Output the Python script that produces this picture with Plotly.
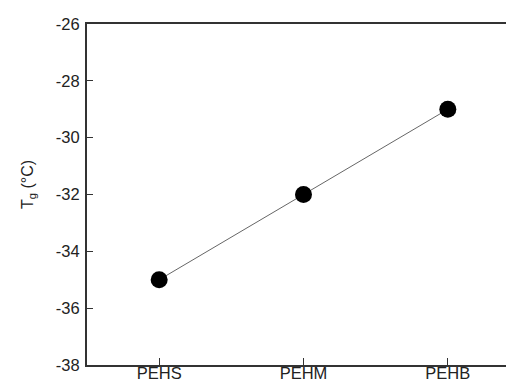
import plotly.graph_objects as go

categories = ["PEHS", "PEHM", "PEHB"]
tg_values = [-35, -32, -29]
y_ticks = [-38, -36, -34, -32, -30, -28, -26]
y_ticktext = [str(v) for v in y_ticks]  # plain hyphen-minus as in the reference

FONT = "Liberation Sans, Arial, sans-serif"
L, R, T, B = 79, 2, 16, 27
W, H = 514, 384

fig = go.Figure()
fig.add_trace(go.Scatter(
    x=[0, 1, 2], y=tg_values, mode="lines+markers",
    line=dict(color="#666666", width=1),
    marker=dict(color="black", size=17),
    showlegend=False,
))

fig.update_layout(
    width=W, height=H,
    margin=dict(l=L, r=R, t=T, b=B),
    paper_bgcolor="white", plot_bgcolor="white",
    font=dict(family=FONT, size=16, color="#222222"),
    xaxis=dict(
        range=[-0.5, 2.5], tickmode="array", tickvals=[0, 1, 2], ticktext=categories,
        showline=True, linecolor="#333333", linewidth=2, mirror=True,
        ticks="inside", ticklen=7, tickcolor="#333333", tickwidth=1,
        showgrid=False, zeroline=False, automargin=False,
        tickfont=dict(size=16.5), ticklabelstandoff=-8,
    ),
    yaxis=dict(
        range=[-38, -26], tickmode="array", tickvals=y_ticks, ticktext=y_ticktext,
        showline=True, linecolor="#333333", linewidth=2,
        ticks="inside", ticklen=6, tickcolor="#333333", tickwidth=1,
        showgrid=False, zeroline=False, automargin=False,
        tickfont=dict(size=16.5), ticklabelstandoff=2,
    ),
)

fig.add_shape(type="line", xref="paper", yref="paper", x0=1, x1=1, y0=0, y1=1,
              line=dict(color="#d8d8d8", width=1))

fig.add_annotation(
    text="T<sub>g</sub> (°C)", textangle=-90,
    xref="paper", yref="paper",
    x=(20 - L) / (W - L - R), y=(H - B - 177) / (H - T - B),
    xanchor="center", yanchor="middle", showarrow=False,
    font=dict(size=16, color="#222222"),
)

fig.write_html("out.html")
